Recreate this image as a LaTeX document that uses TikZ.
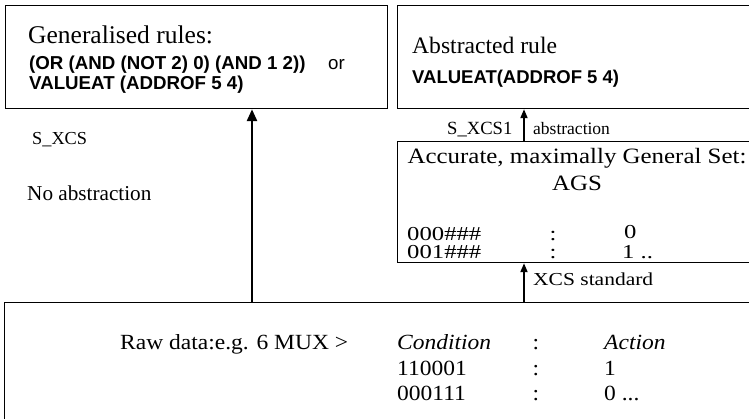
\documentclass[tikz,border=0pt]{standalone}
\usepackage{fontspec}
\usepackage{graphicx}
\setmainfont{Liberation Serif}
\setsansfont{Liberation Sans}
\usetikzlibrary{arrows.meta}

\newcommand{\fsz}[1]{\fontsize{#1}{#1}\selectfont}
\newcommand{\squash}[2]{\scalebox{1}[#1]{#2}}

\begin{document}
\begin{tikzpicture}[x=1pt, y=-1pt,
    box/.style={draw, rectangle, line width=1.2pt, anchor=north west, inner sep=0pt},
    txt/.style={anchor=base west, inner sep=0pt},
    mid/.style={anchor=base, inner sep=0pt},
    code/.style={txt, font=\sffamily\bfseries\fsz{18.7}},
    arrow/.style={-{Triangle[length=12pt, width=10pt]}, line width=2.6pt},
    smallarrow/.style={-{Triangle[length=9pt, width=7pt]}, line width=1.8pt}
]
    \useasboundingbox (0,0) rectangle (749,418);
    \clip (0,0) rectangle (749,418);

    % boxes
    \node (gen) [box, minimum width=382pt, minimum height=103pt] at (5,5) {};
    \node (abs) [box, minimum width=365pt, minimum height=103pt] at (397,5) {};
    \node (ags) [box, minimum width=365pt, minimum height=121pt] at (397,141) {};
    \node (raw) [box, minimum width=770pt, minimum height=140pt] at (4,302) {};

    % generalised rules
    \node (gentitle) [txt, font=\fsz{25.5}] at (28,43) {Generalised rules:};
    \node (genor) [code] at (29,69) {(OR (AND (NOT 2) 0) (AND 1 2))};
    \node (genalt) [txt, font=\sffamily\fsz{18.7}] at (328,69) {or};
    \node (genval) [code] at (29,89) {VALUEAT (ADDROF 5 4)};

    % abstracted rule
    \node (abstitle) [txt, font=\fsz{23.6}] at (412,53) {Abstracted rule};
    \node (absval) [code, font=\sffamily\bfseries\fsz{18.5}] at (412,83) {VALUEAT(ADDROF 5 4)};

    % AGS
    \node (agstitle) [mid, font=\fsz{24.9}] at (577,163) {\squash{0.88}{Accurate, maximally General Set:}};
    \node (agsname) [mid, font=\fsz{24.9}] at (577,190) {\squash{0.88}{AGS}};
    \node (agsca) [txt, font=\fsz{24.7}] at (407,240) {\squash{0.8}{000\#\#\#}};
    \node (agscola) [mid, font=\fsz{24.7}] at (553,240) {\squash{0.8}{:}};
    \node (agsacta) [txt, font=\fsz{24.7}] at (624,238) {\squash{0.8}{0}};
    \node (agscb) [txt, font=\fsz{24.7}] at (407,258) {\squash{0.8}{001\#\#\#}};
    \node (agscolb) [mid, font=\fsz{24.7}] at (553,258) {\squash{0.8}{:}};
    \node (agsactb) [txt, font=\fsz{24.7}] at (622,258) {\squash{0.8}{1 ..}};

    % side labels
    \node (sxcs) [txt, font=\fsz{18.3}] at (32,144) {S\_XCS};
    \node (noabs) [txt, font=\fsz{21.2}] at (27,200) {No abstraction};
    \node (sxcsone) [txt, font=\fsz{18.6}] at (447,134) {S\_XCS1};
    \node (abstr) [txt, font=\fsz{17.5}] at (533,134) {abstraction};
    \node (xcsstd) [txt, font=\fsz{21.5}] at (533,285) {\squash{0.85}{XCS standard}};

    % raw data
    \node (rawlbl) [txt, font=\fsz{23.5}] at (120,349) {\squash{0.92}{Raw data:e.g. 6 MUX >}};
    \node (rawcond) [txt, font=\itshape\fsz{23.5}] at (397,349) {\squash{0.92}{Condition}};
    \node (rawcola) [mid, font=\fsz{23.5}] at (536,349) {\squash{0.92}{:}};
    \node (rawact) [txt, font=\itshape\fsz{23.5}] at (604,349) {\squash{0.92}{Action}};
    \node (rawca) [txt, font=\fsz{23.5}] at (397,375) {\squash{0.92}{110001}};
    \node (rawcolb) [mid, font=\fsz{23.5}] at (536,375) {\squash{0.92}{:}};
    \node (rawaa) [txt, font=\fsz{23.5}] at (604,375) {\squash{0.92}{1}};
    \node (rawcb) [txt, font=\fsz{23.5}] at (397,400) {\squash{0.92}{000111}};
    \node (rawcolc) [mid, font=\fsz{23.5}] at (536,400) {\squash{0.92}{:}};
    \node (rawab) [txt, font=\fsz{23.5}] at (604,400) {\squash{0.92}{0 ...}};

    % connectors
    \coordinate (bigx) at (252,0);
    \coordinate (smallx) at (524,0);
    \draw [arrow] (raw.north -| bigx) -- (gen.south -| bigx);
    \draw [smallarrow] (ags.north -| smallx) -- (abs.south -| smallx);
    \draw [smallarrow] (raw.north -| smallx) -- (ags.south -| smallx);
\end{tikzpicture}
\end{document}
